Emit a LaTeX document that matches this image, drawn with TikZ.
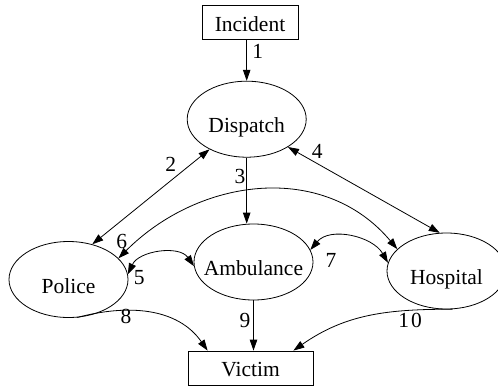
\documentclass[tikz,border=0pt]{standalone}
\usepackage{fontspec}
\setmainfont{Liberation Serif}
\usetikzlibrary{shapes.geometric,arrows.meta}
\begin{document}
\begin{tikzpicture}[x=1pt,y=1pt,
  line width=0.8pt,
  font=\fontsize{21.5}{25}\selectfont,
  state/.style={ellipse,draw,minimum width=119pt,minimum height=76pt,
    inner sep=0pt,text height=27pt,text depth=0pt},
  endpoint/.style={rectangle,draw,inner sep=0pt,minimum height=34pt,
    text height=17pt,text depth=0pt},
  tip/.tip={Triangle[length=11pt,width=7.5pt]},
  flow/.style={-tip},
  both/.style={tip-tip},
  num/.style={inner sep=0pt}
]
\useasboundingbox (0,0) rectangle (498,-386);

% entities
\node[endpoint,minimum width=96pt] (incident) at (250,-22.5) {Incident};
\node[state] (dispatch) at (246.7,-119.2) {\makebox[0pt]{Dispatch}};
\node[state] (police) at (68.5,-279.5) {\makebox[0pt]{Police}};
\node[state] (ambulance) at (253.5,-262) {\makebox[0pt]{Ambulance}};
\node[state] (hospital) at (446.5,-271) {\makebox[0pt]{Hospital}};
\node[endpoint,minimum width=125pt] (victim) at (250.5,-368) {Victim};

% numbered message flows
\draw[flow] (incident.south -| dispatch.north) -- (dispatch.north);
\draw[both] (police.56) -- (dispatch.219);
\draw[flow] (dispatch.south) -- (dispatch.south |- ambulance.north);
\draw[both] (dispatch.-34) -- (hospital.100);
\draw[both] (police.5) to[out=65,in=125] (ambulance.184);
\draw[both] (police.23) to[out=45,in=130,looseness=1.05] (hospital.156);
\draw[both] (ambulance.12) to[out=50,in=120] (hospital.172);
\draw[flow] (police.-77) to[out=15,in=125] ([xshift=20pt]victim.north west);
\draw[flow] (ambulance.south) -- (ambulance.south |- victim.north);
\draw[flow] (hospital.-81) to[out=180,in=35] ([xshift=-20pt]victim.north east);

% flow numbers
\node[num] (n1) at (257.7,-51.7) {1};
\node[num] (n2) at (170.7,-164.3) {2};
\node[num] (n3) at (240,-176.7) {3};
\node[num] (n4) at (317.3,-151.7) {4};
\node[num] (n5) at (139.3,-277.3) {5};
\node[num] (n6) at (121.7,-241.7) {6};
\node[num] (n7) at (331,-260) {7};
\node[num] (n8) at (126,-316) {8};
\node[num] (n9) at (245,-320) {9};
\node[num] (n10) at (410,-320) {1\kern2pt 0};
\end{tikzpicture}
\end{document}
